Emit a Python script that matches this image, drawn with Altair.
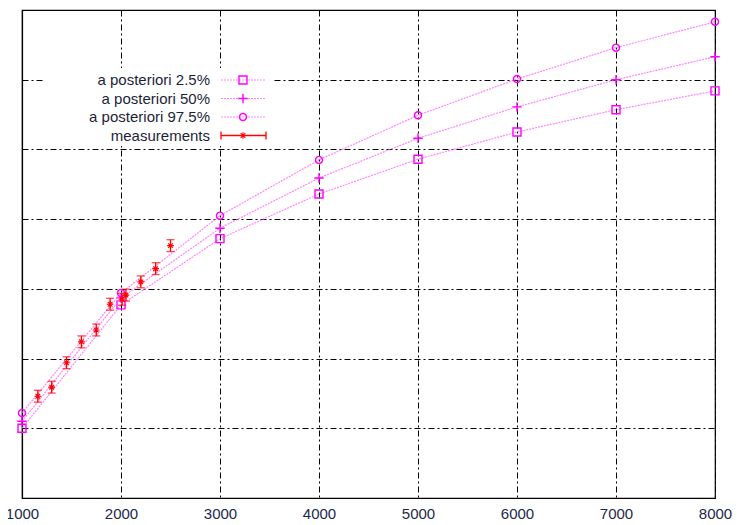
import altair as alt
import pandas as pd

# ---- data ----
x_post = [1000, 2000, 3000, 4000, 5000, 6000, 7000, 8000]
q025 = [1.00, 2.77, 3.72, 4.36, 4.86, 5.25, 5.57, 5.84]
q50 = [1.10, 2.87, 3.87, 4.59, 5.16, 5.61, 6.00, 6.33]
q975 = [1.22, 2.94, 4.05, 4.85, 5.49, 6.01, 6.46, 6.83]

x_meas = [1160, 1300, 1450, 1600, 1750, 1890, 2010, 2050, 2200, 2350, 2500]
y_meas = [1.46, 1.59, 1.94, 2.24, 2.41, 2.78, 2.85, 2.91, 3.10, 3.29, 3.62]
err_meas = [0.085] * len(x_meas)

x_ticks = [1000, 2000, 3000, 4000, 5000, 6000, 7000, 8000]
y_ticks = [0, 1, 2, 3, 4, 5, 6, 7]

series_names = ["a posteriori 2.5%", "a posteriori 50%", "a posteriori 97.5%"]
meas_name = "measurements"

# ---- tables ----
post = pd.DataFrame({
    "x": x_post * 3,
    "y": q025 + q50 + q975,
    "series": [series_names[0]] * 8 + [series_names[1]] * 8 + [series_names[2]] * 8,
})
meas = pd.DataFrame({"x": x_meas, "y": y_meas, "err": err_meas})
meas["lo"] = meas["y"] - meas["err"]
meas["hi"] = meas["y"] + meas["err"]

MAG = "#ff00ff"
LINE = "#ff66ff"
RED = "#ff0000"
PLUS = "M-1,0H1M0,-1V1"
STAR = "M-1,0H1M0,-1V1M-0.7,-0.7L0.7,0.7M-0.7,0.7L0.7,-0.7"
shapes = ["square", PLUS, "circle"]
sizes = [64, 90, 50]

W, H = 693, 488
xs = alt.Scale(domain=[1000, 8000], nice=False, zero=False)
ys = alt.Scale(domain=[0, 7], nice=False, zero=False)
X = alt.X("x:Q", scale=xs, axis=alt.Axis(values=x_ticks, title=None, format="d",
                                         labelFontSize=15, labelColor="#22284a",
                                         labelFont="Liberation Sans", tickSize=0,
                                         labelPadding=8, grid=True, labelFlush=False,
                                         labelOverlap=False))
Y = alt.Y("y:Q", scale=ys, axis=alt.Axis(values=y_ticks, title=None, labels=False,
                                         tickSize=0, grid=True))

layers = []
base_post = alt.Chart(post)
for name, shp, sz in zip(series_names, shapes, sizes):
    sub = base_post.transform_filter(alt.datum.series == name)
    layers.append(sub.mark_line(color=LINE, strokeWidth=1.2, strokeDash=[2, 1], opacity=0.8)
                  .encode(x=X, y=Y))
    layers.append(sub.mark_point(shape=shp, size=sz, color=MAG, filled=False,
                                 strokeWidth=1.4, opacity=1)
                  .encode(x=X, y=Y))

base_meas = alt.Chart(meas)
layers.append(base_meas.mark_rule(color=RED, strokeWidth=1.3)
              .encode(x=X, y=alt.Y("lo:Q", scale=ys), y2="hi:Q"))
layers.append(base_meas.mark_tick(color=RED, orient="horizontal", size=8, thickness=1.3)
              .encode(x=X, y=alt.Y("lo:Q", scale=ys)))
layers.append(base_meas.mark_tick(color=RED, orient="horizontal", size=8, thickness=1.3)
              .encode(x=X, y=alt.Y("hi:Q", scale=ys)))
layers.append(base_meas.mark_point(shape=STAR, size=45, color=RED, filled=False,
                                   strokeWidth=1.1, opacity=1)
              .encode(x=X, y=Y))

# ---- legend (drawn by hand, top-left inside the plot) ----
one = alt.Chart(pd.DataFrame({"a": [0]}))
layers.append(one.mark_rect(color="white").encode(
    x=alt.value(23), x2=alt.value(250), y=alt.value(58), y2=alt.value(136)))
row_y = [70, 88.5, 107, 125.5]
labels = series_names + [meas_name]
for i, lab in enumerate(labels):
    layers.append(one.mark_text(text=lab, align="right", baseline="middle",
                                font="Liberation Sans", fontSize=15, color="#1c1f3a")
                  .encode(x=alt.value(188), y=alt.value(row_y[i])))
for i in range(3):
    layers.append(one.mark_rule(color=LINE, strokeWidth=1.2, strokeDash=[2, 1], opacity=0.8)
                  .encode(x=alt.value(199), x2=alt.value(244), y=alt.value(row_y[i])))
    layers.append(one.mark_point(shape=shapes[i], size=sizes[i], color=MAG, filled=False,
                                 strokeWidth=1.4, opacity=1)
                  .encode(x=alt.value(221), y=alt.value(row_y[i])))
ry = row_y[3]
layers.append(one.mark_rule(color=RED, strokeWidth=1.3)
              .encode(x=alt.value(199), x2=alt.value(244), y=alt.value(ry)))
layers.append(one.mark_rule(color=RED, strokeWidth=1.3)
              .encode(x=alt.value(199), y=alt.value(ry - 4), y2=alt.value(ry + 4)))
layers.append(one.mark_rule(color=RED, strokeWidth=1.3)
              .encode(x=alt.value(244), y=alt.value(ry - 4), y2=alt.value(ry + 4)))
layers.append(one.mark_point(shape=STAR, size=45, color=RED, filled=False,
                             strokeWidth=1.1, opacity=1)
              .encode(x=alt.value(221), y=alt.value(ry)))

chart = alt.layer(*layers).properties(
    width=W, height=H,
    autosize=alt.AutoSizeParams(type="none"),
    padding={"left": 14, "top": 2, "right": 17, "bottom": 25},
    background="white",
).configure_view(stroke="black", strokeWidth=1.2).configure_axis(
    gridColor="black", gridDash=[6, 3, 2, 3], gridWidth=1, gridOpacity=1,
    domainColor="black", domainWidth=1.2,
)

chart.save("out.html", embed_options={"renderer": "svg", "actions": False})
